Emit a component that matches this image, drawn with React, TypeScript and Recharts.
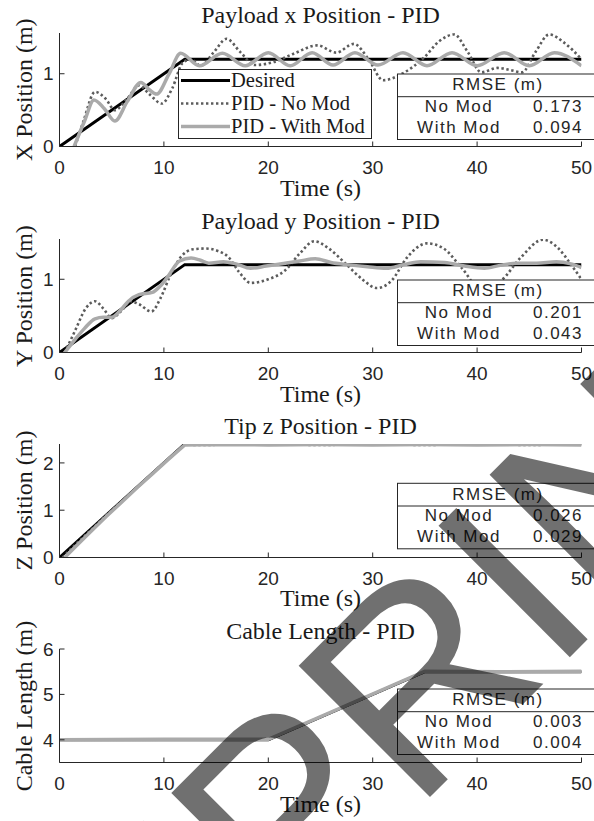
import React from "react";
import { LineChart, Line, XAxis, YAxis, Legend } from "recharts";

const timeTicks = [0, 10, 20, 30, 40, 50];

// Payload x position
const xDesiredT = [0, 12, 50];
const xDesired = [0, 1.2, 1.2];
const xNoModT = [1.5, 2.3, 3.4, 4.4, 5.3, 6.5, 7.6, 8.6, 9.8, 10.8, 11.8, 12.6, 13.5, 14.8, 16.0, 17.3, 18.7, 20.5, 22.5, 24.7, 26.5, 28.2, 29.6, 31.0, 32.8, 34.9, 36.4, 37.8, 39.1, 40.4, 42.0, 43.2, 44.3, 45.6, 46.9, 48.4, 50];
const xNoMod = [0, 0.35, 0.75, 0.66, 0.5, 0.66, 0.84, 0.72, 0.59, 0.8, 1.15, 1.2, 1.11, 1.3, 1.48, 1.3, 1.12, 1.16, 1.28, 1.39, 1.29, 1.41, 1.2, 0.91, 1.0, 1.22, 1.45, 1.54, 1.3, 1.02, 1.08, 1.05, 1.02, 1.3, 1.54, 1.42, 1.2];
const xWithModT = [1.4, 2.4, 3.3, 4.3, 5.3, 6.5, 7.8, 8.6, 9.3, 10.5, 11.6, 13.4, 15.6, 17.8, 20.0, 22.1, 24.2, 26.2, 28.3, 30.5, 32.9, 35.2, 37.6, 40.0, 42.6, 45.0, 47.4, 50];
const xWithMod = [0, 0.35, 0.64, 0.52, 0.35, 0.62, 0.88, 0.78, 0.72, 1.0, 1.28, 1.11, 1.28, 1.11, 1.29, 1.11, 1.29, 1.12, 1.29, 1.12, 1.29, 1.11, 1.29, 1.11, 1.29, 1.11, 1.29, 1.11];

// Payload y position
const yDesiredT = [0, 12, 50];
const yDesired = [0, 1.2, 1.2];
const yNoModT = [0.5, 1.5, 2.5, 3.4, 4.2, 5.0, 6.0, 6.8, 7.6, 8.8, 9.7, 10.6, 11.6, 12.8, 14.0, 15.1, 16.2, 17.2, 18.3, 20.0, 21.6, 23.0, 24.4, 25.8, 27.5, 29.0, 30.4, 31.8, 33.3, 35.2, 36.8, 38.5, 40.4, 42.3, 44.2, 46.3, 47.8, 49.0, 50];
const yNoMod = [0, 0.3, 0.6, 0.7, 0.6, 0.47, 0.58, 0.7, 0.66, 0.56, 0.75, 1.05, 1.3, 1.41, 1.42, 1.39, 1.3, 1.1, 0.95, 1.0, 1.12, 1.35, 1.52, 1.42, 1.2, 1.0, 0.88, 0.98, 1.3, 1.49, 1.42, 1.16, 0.86, 0.98, 1.3, 1.54, 1.42, 1.2, 1.0];
const yWithModT = [0.5, 1.5, 2.4, 3.4, 4.2, 5.0, 5.8, 6.6, 7.6, 8.9, 9.6, 10.3, 11.5, 12.6, 13.5, 14.3, 15.7, 16.9, 18.3, 19.8, 21.6, 23.0, 24.5, 26.0, 27.5, 29.5, 31.3, 33.0, 34.6, 36.9, 38.8, 40.7, 42.2, 43.8, 45.7, 47.6, 49.0, 50];
const yWithMod = [0, 0.18, 0.33, 0.46, 0.48, 0.48, 0.57, 0.7, 0.79, 0.82, 0.9, 1.02, 1.25, 1.29, 1.26, 1.22, 1.24, 1.21, 1.15, 1.18, 1.22, 1.25, 1.28, 1.23, 1.2, 1.17, 1.15, 1.2, 1.24, 1.23, 1.18, 1.15, 1.19, 1.22, 1.22, 1.24, 1.21, 1.16];

// Tip z position
const zDesiredT = [0, 12, 50];
const zDesired = [0, 2.4, 2.4];
const zNoModT = [0.3, 1.5, 3.0, 4.5, 6.0, 7.5, 9.0, 10.5, 12.0, 13, 20, 25, 30, 35, 40, 45, 50];
const zNoMod = [0, 0.27, 0.58, 0.9, 1.2, 1.5, 1.8, 2.1, 2.39, 2.38, 2.39, 2.38, 2.39, 2.38, 2.39, 2.38, 2.39];
const zWithModT = [0.5, 1.5, 3.0, 4.5, 6.0, 7.5, 9.0, 10.5, 12, 15, 20, 25, 30, 35, 40, 45, 50];
const zWithMod = [0, 0.22, 0.55, 0.87, 1.18, 1.49, 1.79, 2.09, 2.38, 2.39, 2.38, 2.39, 2.38, 2.39, 2.38, 2.39, 2.38];

// Cable length
const cDesiredT = [0, 20, 35, 50];
const cDesired = [4, 4, 5.5, 5.5];
const cNoModT = [0, 10, 20, 27.5, 35, 42, 50];
const cNoMod = [4.01, 4.0, 4.0, 4.75, 5.5, 5.51, 5.5];
const cWithModT = [0, 10, 20, 27.5, 35, 42, 50];
const cWithMod = [4.0, 4.01, 4.01, 4.76, 5.51, 5.5, 5.51];

const titles = ["Payload x Position - PID", "Payload y Position - PID", "Tip z Position - PID", "Cable Length - PID"];
const yLabels = ["X Position (m)", "Y Position (m)", "Z Position (m)", "Cable Length (m)"];
const yTicks = [[0, 1], [0, 1], [0, 1, 2], [4, 5, 6]];
const yDomains = [[0, 1.56], [0, 1.55], [0, 2.4], [3.5, 6]];
const rmseNoMod = ["0.173", "0.201", "0.026", "0.003"];
const rmseWithMod = ["0.094", "0.043", "0.029", "0.004"];
const legendNames = ["Desired", "PID - No Mod", "PID - With Mod"];

const pts = (t: number[], v: number[]) => t.map((x, i) => ({ t: x, v: v[i] }));

const series = [
  [pts(xDesiredT, xDesired), pts(xNoModT, xNoMod), pts(xWithModT, xWithMod)],
  [pts(yDesiredT, yDesired), pts(yNoModT, yNoMod), pts(yWithModT, yWithMod)],
  [pts(zDesiredT, zDesired), pts(zNoModT, zNoMod), pts(zWithModT, zWithMod)],
  [pts(cDesiredT, cDesired), pts(cNoModT, cNoMod), pts(cWithModT, cWithMod)],
];

// layout
const W = 594;
const H = 205;
const panelTop = [0, 206.3, 410.8, 616.3];
const margin = { top: 33, right: 12.5, left: 19.5, bottom: 28.5 };
const plotLeft = 59.5;
const plotRight = 581.5;
const plotH = 113.5;
const axisColor = "#262626";
const serif = "Liberation Serif";
const sans = "Liberation Sans";

const styles = [
  { stroke: "#000000", width: 3, dash: undefined as string | undefined },
  { stroke: "#5c5c5c", width: 2.6, dash: "2.4 2.6" },
  { stroke: "#aaaaaa", width: 3.5, dash: undefined as string | undefined },
];

// watermark origin of the visible "PRINT" part, rotated 45 deg
const wmX = 287;
const wmY = 940;

function LegendBox() {
  return (
    <div style={{ width: 194, height: 70, border: "1px solid #262626", background: "#fff", boxSizing: "border-box" }}>
      <svg width={192} height={68}>
        {legendNames.map((n, i) => {
          const cy = 10.5 + i * 23;
          return (
            <g key={n}>
              <line x1={2} x2={51} y1={cy} y2={cy} stroke={styles[i].stroke} strokeWidth={styles[i].width} strokeDasharray={styles[i].dash} />
              <text x={52} y={cy + 6.8} fontFamily={serif} fontSize={20.5} fill="#1a1a1a">{n}</text>
            </g>
          );
        })}
      </svg>
    </div>
  );
}

function Panel({ i }: { i: number }) {
  const curve = i < 2 ? "monotone" : "linear";
  return (
    <div style={{ position: "absolute", left: 0, top: panelTop[i] }}>
      <LineChart width={W} height={H} margin={margin}>
        <XAxis
          type="number"
          dataKey="t"
          domain={[0, 50]}
          ticks={timeTicks}
          interval={0}
          allowDataOverflow
          height={30}
          tickSize={-5}
          tickMargin={19.5}
          axisLine={{ stroke: axisColor }}
          tickLine={{ stroke: axisColor }}
          tick={{ fill: axisColor, fontSize: 19, fontFamily: sans }}
        />
        <YAxis
          type="number"
          domain={yDomains[i]}
          ticks={yTicks[i]}
          interval={0}
          allowDataOverflow
          width={40}
          tickSize={-5}
          tickMargin={11}
          axisLine={{ stroke: axisColor }}
          tickLine={{ stroke: axisColor }}
          tick={{ fill: axisColor, fontSize: 19, fontFamily: sans }}
        />
        {series[i].map((d, k) => (
          <Line
            key={k}
            data={d}
            dataKey="v"
            type={k === 0 ? "linear" : curve}
            stroke={styles[k].stroke}
            strokeWidth={styles[k].width}
            strokeDasharray={styles[k].dash}
            dot={false}
            activeDot={false}
            isAnimationActive={false}
          />
        ))}
        {i === 0 && (
          <Legend
            layout="horizontal"
            verticalAlign="middle"
            align="center"
            content={() => <LegendBox />}
            wrapperStyle={{ left: 178, top: 69, width: 194, height: 70 }}
          />
        )}
      </LineChart>
    </div>
  );
}

export default function App() {
  const tableTop = [74, 280, 483.3, 689];
  return (
    <div style={{ position: "absolute", left: 0, top: 0, width: W, height: 821, background: "#fff", overflow: "hidden" }}>
      {titles.map((_, i) => (
        <Panel key={i} i={i} />
      ))}
      <svg width={W} height={821} style={{ position: "absolute", left: 0, top: 0, pointerEvents: "none" }}>
        {titles.map((title, i) => {
          const pt = panelTop[i] + margin.top;
          const pb = pt + plotH;
          const cx = (plotLeft + plotRight) / 2;
          const cy = pt + plotH / 2;
          const tt = tableTop[i];
          return (
            <g key={title}>
              <text x={cx} y={pt - 10} textAnchor="middle" fontFamily={serif} fontSize={24} fill="#1a1a1a">{title}</text>
              <text x={cx} y={pb + 49} textAnchor="middle" fontFamily={serif} fontSize={24} fill="#1a1a1a">Time (s)</text>
              <text x={32} y={cy} transform={`rotate(-90 32 ${cy})`} textAnchor="middle" fontFamily={serif} fontSize={24} fill="#1a1a1a">{yLabels[i]}</text>
              <rect x={397.5} y={tt} width={210} height={65.5} fill="#fff" stroke={axisColor} strokeWidth={1} />
              <line x1={397.5} x2={600} y1={tt + 22.7} y2={tt + 22.7} stroke={axisColor} strokeWidth={1} />
              <g fontFamily={sans} fontSize={17} fill={axisColor} letterSpacing={1.5}>
                <text x={498} y={tt + 16.2} textAnchor="middle">RMSE (m)</text>
                <text x={459} y={tt + 37.9} textAnchor="middle">No Mod</text>
                <text x={459} y={tt + 58.6} textAnchor="middle">With Mod</text>
                <text x={583} y={tt + 37.9} textAnchor="end">{rmseNoMod[i]}</text>
                <text x={583} y={tt + 58.6} textAnchor="end">{rmseWithMod[i]}</text>
              </g>
            </g>
          );
        })}
        <g transform={`rotate(-45 ${wmX} ${wmY})`} fontFamily={sans} fontSize={270} fill="#000" fillOpacity={0.56}>
          <text x={wmX} y={wmY} textAnchor="end">PRE</text>
          <text x={wmX} y={wmY} textAnchor="start">PRINT</text>
        </g>
      </svg>
    </div>
  );
}
